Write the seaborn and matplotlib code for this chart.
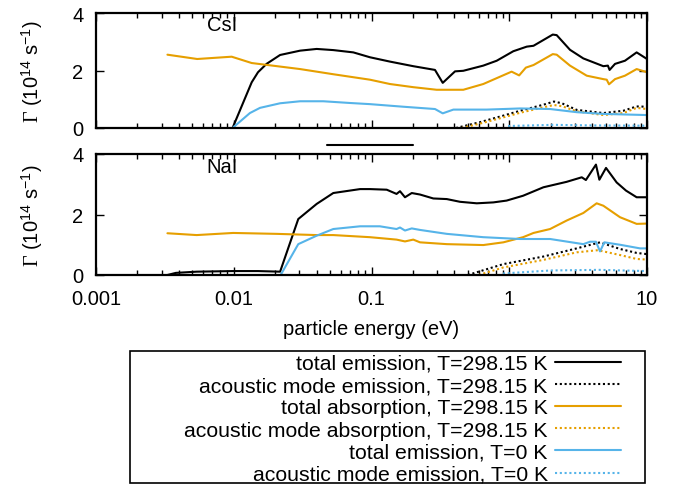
import numpy as np
import pandas as pd
import matplotlib
matplotlib.use("Agg")
import matplotlib.pyplot as plt
import seaborn as sns
from matplotlib.lines import Line2D
from matplotlib.patches import Rectangle

# ---------------- data ----------------
series_labels = [
    "total emission, T=298.15 K",
    "acoustic mode emission, T=298.15 K",
    "total absorption, T=298.15 K",
    "acoustic mode absorption, T=298.15 K",
    "total emission, T=0 K",
    "acoustic mode emission, T=0 K",
]
panel_names = ["CsI", "NaI"]
x_ticks = [0.001, 0.01, 0.1, 1, 10]
x_tick_labels = ["0.001", "0.01", "0.1", "1", "10"]
y_ticks = [0, 2, 4]

# CsI
csi_em298_E = [0.0098, 0.0135, 0.0150, 0.0173, 0.0217, 0.0303, 0.040, 0.0528, 0.0738, 0.0975,
               0.136, 0.201, 0.289, 0.329, 0.404, 0.464, 0.648, 0.811, 1.07, 1.34, 1.50, 2.07,
               2.21, 2.76, 3.45, 4.82, 5.2, 5.35, 5.86, 6.92, 8.41, 10.0]
csi_em298_G = [0.0, 1.59, 1.94, 2.23, 2.54, 2.69, 2.75, 2.71, 2.63, 2.46,
               2.31, 2.15, 2.02, 1.57, 1.97, 1.99, 2.17, 2.34, 2.67, 2.83, 2.86, 3.25,
               3.23, 2.72, 2.42, 2.15, 2.17, 2.02, 2.23, 2.34, 2.63, 2.40]
csi_abs298_E = [0.0033, 0.00543, 0.00966, 0.0135, 0.0303, 0.0528, 0.0975, 0.136, 0.201, 0.297,
                0.464, 0.648, 1.04, 1.18, 1.32, 1.50, 2.07, 2.21, 2.76, 3.65, 4.82, 5.1, 5.3,
                5.86, 6.92, 8.41, 10.0]
csi_abs298_G = [2.55, 2.40, 2.48, 2.26, 2.05, 1.87, 1.68, 1.53, 1.42, 1.33,
                1.33, 1.53, 1.96, 1.83, 2.10, 2.19, 2.57, 2.55, 2.17, 1.82, 1.70, 1.68, 1.52,
                1.70, 1.82, 2.05, 1.94]
csi_em0_E = [0.0098, 0.0131, 0.0155, 0.0217, 0.0303, 0.0447, 0.0698, 0.0975, 0.170, 0.289,
             0.329, 0.393, 0.686, 1.20, 1.98, 3.09, 4.82, 10.0]
csi_em0_G = [0.0, 0.52, 0.70, 0.86, 0.93, 0.93, 0.87, 0.83, 0.74, 0.66,
             0.51, 0.64, 0.64, 0.68, 0.66, 0.55, 0.49, 0.45]
csi_ac_em298_E = [0.41, 0.61, 0.906, 1.20, 1.77, 2.11, 2.41, 3.09, 4.82, 6.73, 8.41, 10.0]
csi_ac_em298_G = [0.0, 0.20, 0.43, 0.60, 0.81, 0.92, 0.86, 0.63, 0.52, 0.60, 0.75, 0.74]
csi_ac_abs298_E = [0.45, 0.61, 0.906, 1.20, 1.77, 2.11, 2.41, 3.09, 4.82, 6.73, 8.41, 10.0]
csi_ac_abs298_G = [0.0, 0.15, 0.37, 0.53, 0.72, 0.80, 0.76, 0.58, 0.45, 0.52, 0.70, 0.66]
csi_ac_em0_E = [0.98, 2.1, 4.0, 10.0]
csi_ac_em0_G = [0.07, 0.11, 0.09, 0.08]

# NaI
nai_em298_E = [0.0033, 0.0038, 0.00538, 0.0099, 0.015, 0.0217, 0.0294, 0.040, 0.0528, 0.0826,
               0.0975, 0.129, 0.152, 0.161, 0.175, 0.196, 0.225, 0.281, 0.352, 0.439, 0.581,
               0.766, 0.957, 1.26, 1.77, 2.61, 3.36, 3.60, 4.26, 4.51, 5.04, 6.02, 7.04, 8.41, 10.0]
nai_em298_G = [0.0, 0.07, 0.11, 0.13, 0.13, 0.11, 1.85, 2.35, 2.71, 2.84,
               2.84, 2.82, 2.68, 2.77, 2.57, 2.71, 2.66, 2.53, 2.51, 2.42, 2.37,
               2.40, 2.46, 2.62, 2.90, 3.08, 3.23, 3.14, 3.65, 3.15, 3.54, 3.06, 2.79, 2.57, 2.57]
nai_abs298_E = [0.0033, 0.00538, 0.0099, 0.0205, 0.040, 0.0528, 0.0975, 0.152, 0.175, 0.201,
                0.225, 0.352, 0.648, 0.906, 1.26, 1.50, 1.98, 2.61, 3.45, 4.31, 4.82, 6.37, 8.41, 10.0]
nai_abs298_G = [1.38, 1.32, 1.39, 1.36, 1.32, 1.32, 1.25, 1.17, 1.11, 1.17,
                1.08, 1.02, 0.99, 1.08, 1.25, 1.39, 1.52, 1.80, 2.05, 2.37, 2.29, 1.91, 1.69, 1.70]
nai_em0_E = [0.0219, 0.0294, 0.040, 0.0528, 0.0826, 0.115, 0.152, 0.161, 0.175, 0.196, 0.225,
             0.352, 0.648, 1.20, 1.98, 3.45, 3.86, 4.26, 4.56, 4.9, 6.37, 8.9, 10.0]
nai_em0_G = [0.0, 1.02, 1.30, 1.52, 1.61, 1.61, 1.52, 1.57, 1.47, 1.54, 1.49,
             1.36, 1.25, 1.19, 1.19, 1.02, 1.10, 1.10, 0.78, 1.08, 1.00, 0.88, 0.88]
nai_ac_em298_E = [0.5, 0.906, 1.77, 3.09, 4.56, 6.37, 8.41, 10.0]
nai_ac_em298_G = [0.0, 0.36, 0.61, 0.88, 1.08, 0.86, 0.73, 0.69]
nai_ac_abs298_E = [0.6, 0.906, 1.77, 3.09, 4.4, 6.37, 8.41, 10.0]
nai_ac_abs298_G = [0.0, 0.25, 0.50, 0.75, 0.82, 0.66, 0.53, 0.51]
nai_ac_em0_E = [0.9, 2.0, 4.5, 10.0]
nai_ac_em0_G = [0.05, 0.15, 0.17, 0.13]

# ---------------- styling ----------------
sns.set_theme(style="ticks")
plt.rcParams["font.family"] = ["Liberation Sans", "DejaVu Sans"]
plt.rcParams["mathtext.fontset"] = "custom"
plt.rcParams["mathtext.rm"] = "Liberation Serif"
plt.rcParams["mathtext.sf"] = "Liberation Sans"
plt.rcParams["axes.linewidth"] = 1.6
for k in ["text.color", "axes.labelcolor", "xtick.color", "ytick.color", "axes.edgecolor"]:
    plt.rcParams[k] = "black"

BLACK = "#000000"
ORANGE = "#E69F00"
BLUE = "#56B4E9"
DOT = (0, (1.0, 1.3))
styles = [(BLACK, "-"), (BLACK, DOT), (ORANGE, "-"), (ORANGE, DOT), (BLUE, "-"), (BLUE, DOT)]

panels = {
    "CsI": [(csi_em298_E, csi_em298_G), (csi_ac_em298_E, csi_ac_em298_G),
            (csi_abs298_E, csi_abs298_G), (csi_ac_abs298_E, csi_ac_abs298_G),
            (csi_em0_E, csi_em0_G), (csi_ac_em0_E, csi_ac_em0_G)],
    "NaI": [(nai_em298_E, nai_em298_G), (nai_ac_em298_E, nai_ac_em298_G),
            (nai_abs298_E, nai_abs298_G), (nai_ac_abs298_E, nai_ac_abs298_G),
            (nai_em0_E, nai_em0_G), (nai_ac_em0_E, nai_ac_em0_G)],
}

W, H = 677, 489
fig = plt.figure(figsize=(W / 100, H / 100), dpi=100)
ax_top = fig.add_axes([96 / W, 1 - 129 / H, 551 / W, 115 / H])
ax_bot = fig.add_axes([96 / W, 1 - 276 / H, 551 / W, 121 / H])

ylabel = r"$\Gamma$ (10$^{\mathsf{14}}$ s$^{\mathsf{-1}}$)"

for ax, name in zip([ax_top, ax_bot], panel_names):
    for (E, G), lab, (c, ls) in zip(panels[name], series_labels, styles):
        df = pd.DataFrame({"E": E, "G": G})
        sns.lineplot(data=df, x="E", y="G", ax=ax, color=c, linestyle=ls, linewidth=1.5,
                     estimator=None, sort=False, label=lab, legend=False)
    ax.set_xscale("log")
    ax.set_xlim(0.001, 10)
    ax.set_ylim(0, 4)
    ax.set_yticks(y_ticks)
    ax.set_xticks(x_ticks)
    ax.set_xticklabels(x_tick_labels)
    ax.tick_params(which="both", direction="in", top=True, right=True, labelsize=14.5, width=1.0)
    ax.tick_params(which="major", length=6)
    ax.tick_params(which="minor", length=3.5)
    ax.tick_params(axis="y", which="minor", left=False, right=False)
    ax.tick_params(axis="y", pad=9)
    ax.tick_params(axis="x", pad=10)
    ax.set_ylabel(ylabel, fontsize=14.5)
    ax.yaxis.set_label_coords(-0.093, 0.5)
    ax.set_xlabel("")
    ax.text(0.229, 0.90, name, transform=ax.transAxes, fontsize=14.5, ha="center", va="center")

ax_top.tick_params(axis="x", labelbottom=False)
ax_bot.set_xlabel("particle energy (eV)", fontsize=14.5, labelpad=8)

# stray short line between panels (present in the reference)
fig.add_artist(Line2D([327 / W, 413 / W], [1 - 146 / H, 1 - 146 / H], color="black", lw=1.5))

# legend box
fig.add_artist(Rectangle((130 / W, 1 - 484 / H), 515 / W, 132 / H, transform=fig.transFigure,
                         fill=False, edgecolor="black", lw=1.2))
handles, labels = ax_bot.get_legend_handles_labels()
fig.legend(handles, labels, loc="upper right", bbox_to_anchor=(621 / W, 1 - 355 / H),
           bbox_transform=fig.transFigure, frameon=False, markerfirst=False, fontsize=15.3,
           handlelength=3.1, handletextpad=0.35, labelspacing=0.15, borderpad=0, borderaxespad=0)

fig.savefig("out.png", dpi=100)
